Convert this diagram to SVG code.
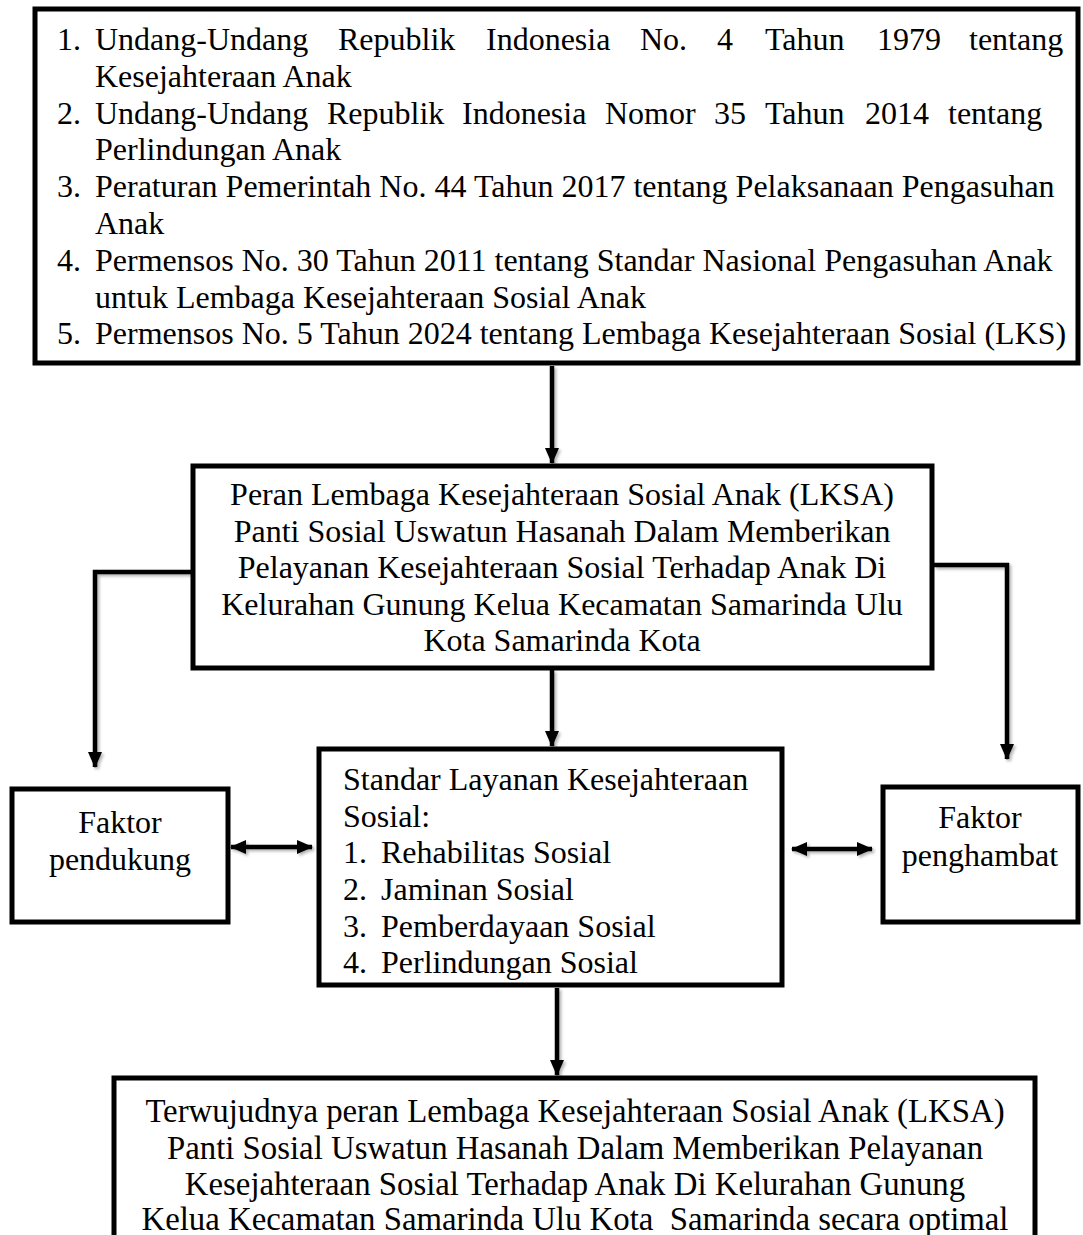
<svg xmlns="http://www.w3.org/2000/svg" width="1083" height="1235" viewBox="0 0 1083 1235">
<style>
text { font-family: "Liberation Serif", "Times New Roman", serif; font-size: 32px; fill: #000; }
.c { text-anchor: middle; }
.b { font-size: 32.8px; }
.box { fill: #fff; stroke: #000; stroke-width: 5; }
.con { fill: none; stroke: #000; stroke-width: 4.5; }
</style>
<defs>
<marker id="ah" viewBox="0 0 16 14" markerWidth="16" markerHeight="14" refX="15" refY="7" orient="auto-start-reverse" markerUnits="userSpaceOnUse">
<path d="M0,0 L16,7 L0,14 z" fill="#000"/>
</marker>
<filter id="sh" x="-20%" y="-20%" width="140%" height="140%">
<feDropShadow dx="2" dy="2" stdDeviation="1.5" flood-color="#000" flood-opacity="0.3"/>
</filter>
</defs>

<g id="n-regulasi">
<rect class="box" x="35" y="9" width="1043" height="354" stroke-width="6"/>
<text y="50"><tspan x="57">1.</tspan><tspan x="95">Undang-Undang</tspan><tspan x="338">Republik</tspan><tspan x="486">Indonesia</tspan><tspan x="640">No.</tspan><tspan x="717">4</tspan><tspan x="765">Tahun</tspan><tspan x="877">1979</tspan><tspan x="969">tentang</tspan></text>
<text x="95" y="86.8">Kesejahteraan Anak</text>
<text y="123.6"><tspan x="57">2.</tspan><tspan x="95">Undang-Undang</tspan><tspan x="327">Republik</tspan><tspan x="462">Indonesia</tspan><tspan x="605">Nomor</tspan><tspan x="714">35</tspan><tspan x="765">Tahun</tspan><tspan x="865">2014</tspan><tspan x="948">tentang</tspan></text>
<text x="95" y="160.4">Perlindungan Anak</text>
<text y="197.2"><tspan x="57">3.</tspan><tspan x="95">Peraturan Pemerintah No. 44 Tahun 2017 tentang Pelaksanaan Pengasuhan</tspan></text>
<text x="95" y="234">Anak</text>
<text y="270.8"><tspan x="57">4.</tspan><tspan x="95">Permensos No. 30 Tahun 2011 tentang Standar Nasional Pengasuhan Anak</tspan></text>
<text x="95" y="307.6">untuk Lembaga Kesejahteraan Sosial Anak</text>
<text y="344.4"><tspan x="57">5.</tspan><tspan x="95">Permensos No. 5 Tahun 2024 tentang Lembaga Kesejahteraan Sosial (LKS)</tspan></text>
</g>

<g id="n-peran">
<rect class="box" x="193" y="466" width="739" height="202"/>
<text class="c" x="562" y="505">Peran Lembaga Kesejahteraan Sosial Anak (LKSA)</text>
<text class="c" x="562" y="542">Panti Sosial Uswatun Hasanah Dalam Memberikan</text>
<text class="c" x="562" y="578">Pelayanan Kesejahteraan Sosial Terhadap Anak Di</text>
<text class="c" x="562" y="615">Kelurahan Gunung Kelua Kecamatan Samarinda Ulu</text>
<text class="c" x="562" y="651">Kota Samarinda Kota</text>
</g>

<g id="n-pendukung">
<rect class="box" x="12" y="789" width="216" height="133"/>
<text class="c" x="120" y="833">Faktor</text>
<text class="c" x="120" y="870">pendukung</text>
</g>

<g id="n-standar">
<rect class="box" x="319" y="749" width="463" height="236"/>
<text x="343" y="790">Standar Layanan Kesejahteraan</text>
<text x="343" y="827">Sosial:</text>
<text y="863"><tspan x="343">1.</tspan><tspan x="381">Rehabilitas Sosial</tspan></text>
<text y="900"><tspan x="343">2.</tspan><tspan x="381">Jaminan Sosial</tspan></text>
<text y="937"><tspan x="343">3.</tspan><tspan x="381">Pemberdayaan Sosial</tspan></text>
<text y="973"><tspan x="343">4.</tspan><tspan x="381">Perlindungan Sosial</tspan></text>
</g>

<g id="n-penghambat">
<rect class="box" x="883" y="787" width="195" height="135"/>
<text class="c" x="980" y="828">Faktor</text>
<text class="c" x="980" y="866">penghambat</text>
</g>

<g id="n-hasil">
<rect class="box" x="114" y="1078" width="921" height="180"/>
<text class="c b" x="575" y="1122">Terwujudnya peran Lembaga Kesejahteraan Sosial Anak (LKSA)</text>
<text class="c b" x="575" y="1158.5">Panti Sosial Uswatun Hasanah Dalam Memberikan Pelayanan</text>
<text class="c b" x="575" y="1195">Kesejahteraan Sosial Terhadap Anak Di Kelurahan Gunung</text>
<text class="c b" x="575" y="1230" xml:space="preserve">Kelua Kecamatan Samarinda Ulu Kota  Samarinda secara optimal</text>
</g>

<g id="connectors" filter="url(#sh)">
<path class="con" d="M552,366 V463" marker-end="url(#ah)"/>
<path class="con" d="M191,572 H95 V767" marker-end="url(#ah)"/>
<path class="con" d="M552,670 V746" marker-end="url(#ah)"/>
<path class="con" d="M934,565 H1007 V759" marker-end="url(#ah)"/>
<path class="con" d="M231,847 H312" stroke-width="5" marker-start="url(#ah)" marker-end="url(#ah)"/>
<path class="con" d="M792,849 H872" stroke-width="5" marker-start="url(#ah)" marker-end="url(#ah)"/>
<path class="con" d="M557,988 V1075" marker-end="url(#ah)"/>
</g>
</svg>
